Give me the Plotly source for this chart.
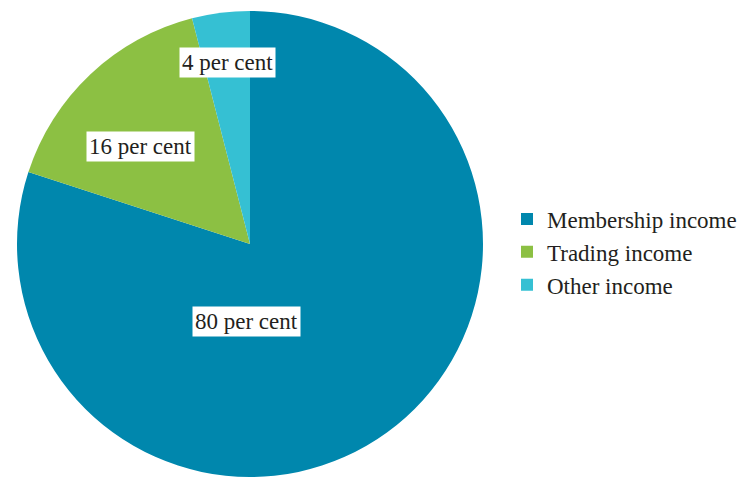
import plotly.graph_objects as go

categories = ["Membership income", "Trading income", "Other income"]
values = [80, 16, 4]
label_texts = ["80 per cent", "16 per cent", "4 per cent"]
colors = ["#0087AD", "#8CC043", "#35C0D3"]

W, H = 753, 477
FONT = "Liberation Serif, Times New Roman, serif"

fig = go.Figure(go.Pie(
    labels=categories,
    values=values,
    sort=False,
    direction="clockwise",
    rotation=0,
    marker=dict(colors=colors, line=dict(width=0)),
    textinfo="none",
    hoverinfo="label+percent",
    domain=dict(x=[17 / W, 483 / W], y=[0, 466 / H]),
))

# label boxes (pixel centres in the picture)
label_px = [(246, 321), (140, 146), (227, 62)]
for txt, (px, py) in zip(label_texts, label_px):
    fig.add_annotation(
        x=px / W, y=(H - py) / H, xref="paper", yref="paper",
        text=txt, showarrow=False,
        font=dict(family=FONT, size=23, color="#231F20"),
        bgcolor="white", borderpad=2,
        xanchor="center", yanchor="middle",
    )

fig.update_layout(
    width=W, height=H,
    margin=dict(l=0, r=0, t=0, b=0),
    paper_bgcolor="white",
    plot_bgcolor="white",
    showlegend=True,
    legend=dict(
        x=507 / W, y=(H - 252) / H, xanchor="left", yanchor="middle",
        font=dict(family=FONT, size=23, color="#231F20"),
        bgcolor="rgba(0,0,0,0)",
        itemclick=False,
    ),
)

fig.write_html(
    "out.html",
    config={"displayModeBar": False},
    post_script="document.body.style.margin='0';document.body.style.overflow='hidden';",
)
